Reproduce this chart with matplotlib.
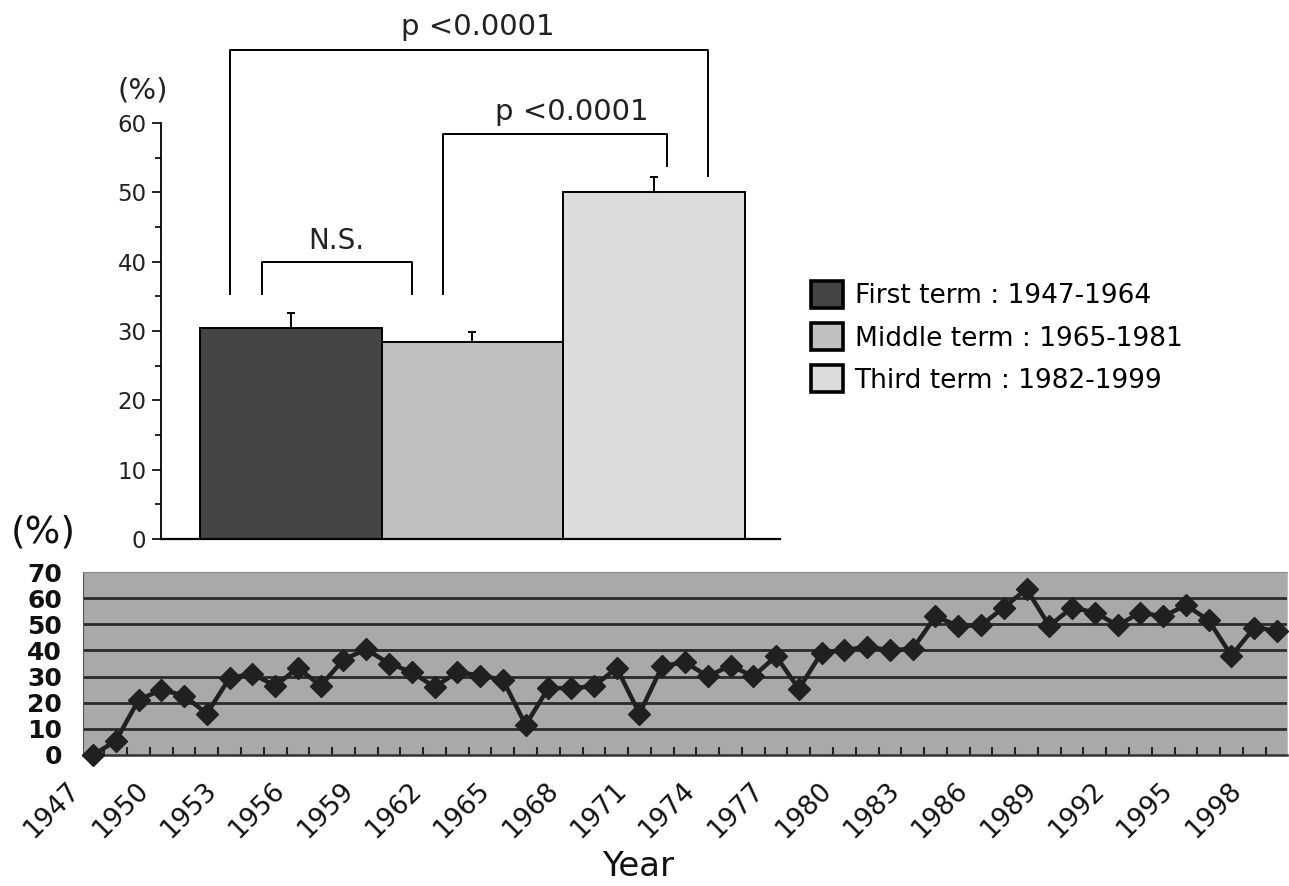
import matplotlib
matplotlib.use('Agg')
import matplotlib.pyplot as plt
import matplotlib.transforms as mtransforms
from matplotlib.patches import Patch
import numpy as np

# ---------------- data ----------------
terms = ['First term : 1947-1964', 'Middle term : 1965-1981', 'Third term : 1982-1999']
term_means = [30.4, 28.4, 50.1]
term_err = [2.2, 1.4, 2.1]
term_colors = ['#454545', '#c0c0c0', '#dcdcdc']

years = list(range(1947, 2000))
rates = [0, 5.4, 21, 25, 22.7, 15.8, 29.5, 31, 26.5, 33.3,
         26.5, 36.5, 40.4, 35, 31.7, 26, 31.7, 30.4, 28.8, 11.5,
         25.6, 25.6, 26.3, 33.3, 15.8, 34, 35.5, 30.1, 34.2, 30.1,
         37.8, 25.3, 39.1, 40.1, 41.4, 40.1, 40.6, 53, 49.4, 49.6,
         56.4, 63.5, 49.4, 56.4, 54.5, 49.6, 54.5, 53, 57.3, 51.5,
         38, 48.7, 47.6]
label_years = list(range(1947, 1999, 3))
top_yticks = [0, 10, 20, 30, 40, 50, 60]
bottom_yticks = [0, 10, 20, 30, 40, 50, 60, 70]

W, H = 1289, 886
fig = plt.figure(figsize=(W / 100, H / 100), dpi=100)
FONT = 'DejaVu Sans'


def frac(l, t, r, b):
    return [l / W, 1 - b / H, (r - l) / W, (b - t) / H]


# ---------------- top bar chart ----------------
ax1 = fig.add_axes(frac(161, 123, 780, 539))
x = np.arange(len(terms))
ax1.bar(x, term_means, width=1.0, color=term_colors, edgecolor='black',
        linewidth=1.4, zorder=2)
ax1.errorbar(x, term_means, yerr=[np.zeros(len(x)), term_err], fmt='none',
             ecolor='black', elinewidth=1.4, capsize=3, capthick=1.4, zorder=3)
ax1.set_xlim(-0.716, 2.694)
ax1.set_ylim(0, 60)
for s in ['top', 'right']:
    ax1.spines[s].set_visible(False)
ax1.spines['left'].set_bounds(0, 60)
ax1.spines['left'].set_linewidth(1.3)
ax1.spines['bottom'].set_linewidth(1.6)
ax1.set_xticks([])
ax1.set_yticks(top_yticks)
ax1.set_yticks(np.arange(5, 60, 10), minor=True)
ax1.tick_params(axis='y', which='major', direction='out', length=6.5, width=1.2,
                pad=4, labelsize=16.5, labelcolor='#222222')
ax1.tick_params(axis='y', which='minor', direction='out', length=4.5, width=1.2)
for lab in ax1.get_yticklabels():
    lab.set_family(FONT)


def bracket(x0, x1, ytop, yl, yr):
    ax1.plot([x0, x0, x1, x1], [yl, ytop, ytop, yr], color='black', lw=1.4,
             clip_on=False, zorder=4)


bracket(-0.16, 0.667, 40.0, 35.4, 35.4)
bracket(0.837, 2.07, 58.4, 35.4, 53.8)
bracket(-0.336, 2.30, 70.5, 35.4, 52.3)
ax1.text(0.248, 43.0, 'N.S.', ha='center', va='center', fontsize=20,
         family=FONT, color='#222222')
ax1.text(1.548, 61.6, 'p <0.0001', ha='center', va='center', fontsize=21,
         family=FONT, color='#222222', clip_on=False)
ax1.text(1.03, 73.9, 'p <0.0001', ha='center', va='center', fontsize=21,
         family=FONT, color='#222222', clip_on=False)
fig.text(143 / W, 1 - 90 / H, '(%)', ha='center', va='center', fontsize=21,
         family=FONT, color='#222222')

handles = [Patch(facecolor=c, edgecolor='black', linewidth=2.6) for c in term_colors]
leg = fig.legend(handles, terms, loc='upper left',
                 bbox_to_anchor=(811 / W, 1 - 281 / H), frameon=False,
                 prop={'family': FONT, 'size': 19}, handlelength=1.2,
                 handleheight=1.2, handletextpad=0.45, labelspacing=0.52,
                 borderpad=0, borderaxespad=0)

# ---------------- bottom line chart ----------------
ax2 = fig.add_axes(frac(83, 572, 1287, 755))
ax2.set_facecolor('#a9a9a9')
ax2.plot(years, rates, color='#202020', lw=3.2, marker='D', ms=11.5,
         mfc='#202020', mec='#202020', clip_on=False, zorder=4)
ax2.set_xlim(1947 - 0.44, 1999 + 0.44)
ax2.set_ylim(0, 70)
ax2.set_yticks(bottom_yticks)
for yv in bottom_yticks[1:-1]:
    ax2.axhline(yv, color='#2a2a2a', lw=2.0, zorder=1)
ax2.spines['top'].set_color('#8a8a8a')
ax2.spines['right'].set_color('#bdbdbd')
ax2.spines['left'].set_color('#555555')
ax2.spines['bottom'].set_color('#333333')
ax2.spines['bottom'].set_linewidth(1.8)
ax2.tick_params(axis='y', length=0, pad=15, labelsize=18)
for lab in ax2.get_yticklabels():
    lab.set_family(FONT)
    lab.set_fontweight('bold')
    lab.set_color('#111111')

ax2.set_xticks(label_years)
ax2.set_xticklabels([str(y) for y in label_years], rotation=45, ha='right',
                    va='center', rotation_mode='anchor', fontsize=19,
                    family=FONT, color='#111111')
ax2.set_xticks(np.array(years[:-1]) + 0.5, minor=True)
ax2.tick_params(axis='x', which='major', length=0, pad=23)
ax2.tick_params(axis='x', which='minor', direction='in', length=6, width=1.5,
                color='#222222')
off = mtransforms.ScaledTranslation(-0.17, 0, fig.dpi_scale_trans)
for lab in ax2.get_xticklabels():
    lab.set_transform(lab.get_transform() + off)

fig.text(43 / W, 1 - 533 / H, '(%)', ha='center', va='center', fontsize=27,
         family=FONT, color='#111111')
fig.text(638 / W, 1 - 866 / H, 'Year', ha='center', va='center', fontsize=24.5,
         family=FONT, color='#111111')

fig.savefig('out.png', dpi=100)
